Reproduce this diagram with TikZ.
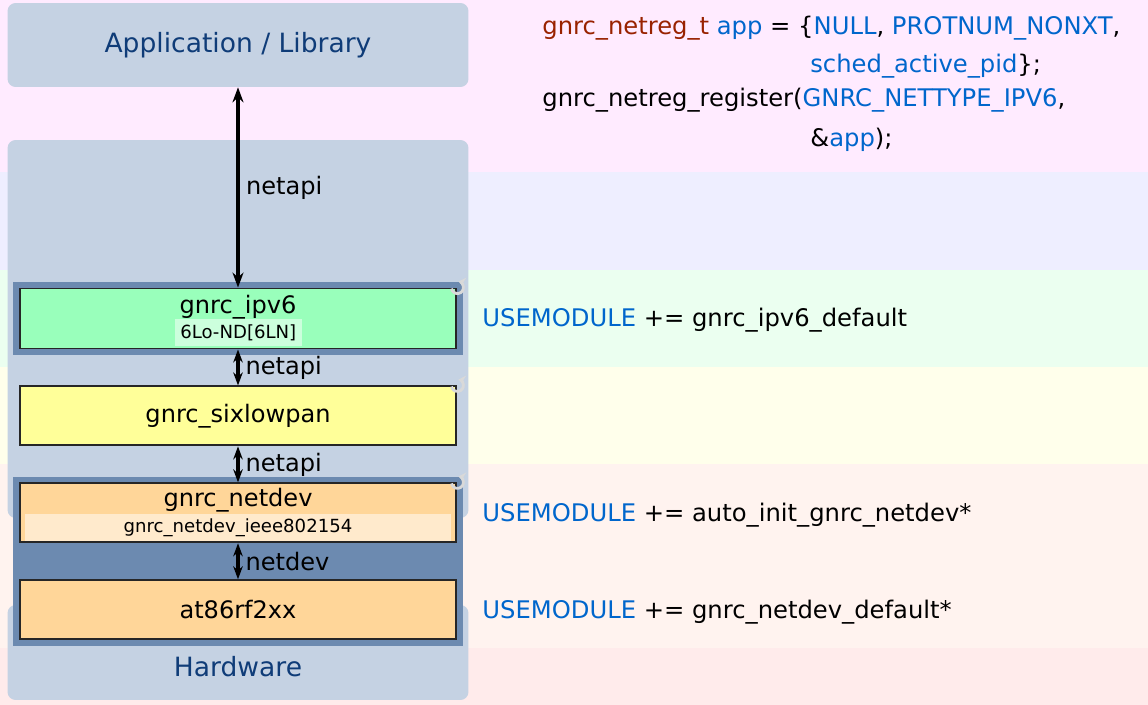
\documentclass[tikz,border=0pt]{standalone}
\usepackage{fontspec}
\setmainfont{DejaVu Sans}
\usepackage{xcolor}
\usepackage{tikz}
\usetikzlibrary{arrows.meta, positioning, backgrounds, fit}

\definecolor{bandApp}{HTML}{FFEBFF}
\definecolor{bandApi}{HTML}{EEEEFF}
\definecolor{bandNet}{HTML}{EBFFF0}
\definecolor{bandAdapt}{HTML}{FFFFEB}
\definecolor{bandDev}{HTML}{FFF3EF}
\definecolor{bandHw}{HTML}{FFEBEB}
\definecolor{stackfill}{HTML}{C5D2E3}
\definecolor{stacktext}{HTML}{0F3C78}
\definecolor{framefill}{HTML}{6C8AB0}
\definecolor{ipvsix}{HTML}{99FFBB}
\definecolor{ipvsixsub}{HTML}{CCFFDD}
\definecolor{lowpan}{HTML}{FFFF99}
\definecolor{devfill}{HTML}{FFD699}
\definecolor{devsub}{HTML}{FFEACC}
\definecolor{typered}{HTML}{992200}
\definecolor{identblue}{HTML}{0066CC}

\tikzset{
  stackbox/.style ={rectangle, rounded corners=0.16cm, fill=stackfill, minimum width=9.22cm,
                    inner sep=0pt, text=stacktext, font={\fontsize{15.1}{18}\selectfont}},
  modbox/.style   ={rectangle, draw=black!85, line width=1.1pt, minimum width=8.74cm,
                    minimum height=1.18cm, inner sep=0pt, font={\fontsize{13.7}{16}\selectfont}},
  modtitle/.style ={inner sep=0pt, font={\fontsize{13.7}{16}\selectfont}},
  extbox/.style   ={rectangle, inner sep=0pt, minimum height=0.55cm,
                    font={\fontsize{10.3}{12}\selectfont}},
  frm/.style      ={rectangle, fill=framefill, inner sep=0.11cm},
  bigapi/.style   ={{Stealth[length=0.3cm,width=0.22cm]}-{Stealth[length=0.3cm,width=0.22cm]},
                    line width=2.5pt},
  api/.style      ={{Stealth[length=0.26cm,width=0.19cm]}-{Stealth[length=0.26cm,width=0.19cm]},
                    line width=1.9pt},
  lbl/.style      ={font={\fontsize{13.7}{16}\selectfont}},
  spin/.style     ={draw=gray!30, line width=1.6pt, -{Stealth[length=4pt,width=6pt]}},
  code/.style     ={anchor=base west, inner sep=0pt, font={\fontsize{13.8}{16}\selectfont}},
}

\begin{document}
\begin{tikzpicture}[x=0.02cm, y=-0.02cm, node distance=0.72cm]
  \useasboundingbox (0,0) rectangle (1148,705);

  % ── Bands and layers ───────────────────────────────────────────────
  \begin{scope}[on background layer]
    \fill[bandApp]   (0,0)   rectangle (1148,172);
    \fill[bandApi]   (0,172) rectangle (1148,270);
    \fill[bandNet]   (0,270) rectangle (1148,367);
    \fill[bandAdapt] (0,367) rectangle (1148,464);
    \fill[bandDev]   (0,464) rectangle (1148,648);
    \fill[bandHw]    (0,648) rectangle (1148,705);

    \node[stackbox, minimum height=1.68cm] (app)  at (238,45)    {Application / Library};
    \node[stackbox, minimum height=7.56cm] (gnrc) at (238,329)   {};
    \node[stackbox, minimum height=1.9cm]  (hw)   at (238,652.5) {};
  \end{scope}
  \node[modtitle, text=stacktext, font={\fontsize{15.1}{18}\selectfont}, anchor=base]
       (hwname) at (238,676.7) {Hardware};

  % ── Modules ────────────────────────────────────────────────────────
  \node[modbox, fill=ipvsix, minimum height=1.2cm] (ipv6) at (238,318.5) {};
  \node[modbox, fill=lowpan,  below=of ipv6]      (sixlowpan) {gnrc\_sixlowpan};
  \node[modbox, fill=devfill, below=of sixlowpan] (netdev)    {};
  \node[modbox, fill=devfill, below=of netdev]    (radio)     {at86rf2xx};

  \node[modtitle, anchor=base] (ipv6name) at (238,313.3) {gnrc\_ipv6};
  \node[extbox, fill=ipvsixsub, minimum width=2.54cm] (ipv6ext) at (238.3,332.5) {6Lo-ND[6LN]};
  \node[modtitle, anchor=base] (netdevname) at (238,506.7) {gnrc\_netdev};
  \node[extbox, fill=devsub, minimum width=8.52cm] (netdevext) at (238,527.5) {gnrc\_netdev\_ieee802154};

  \begin{scope}[on background layer]
    \node[frm, fit=(ipv6)] (ipv6frame) {};
    \node[frm, fit=(netdev) (radio)] (devframe) {};
  \end{scope}

  % ── Interfaces ─────────────────────────────────────────────────────
  \draw[bigapi] (app.south) -- node[right, lbl] {netapi} (ipv6.north);
  \draw[api] (ipv6) -- node[right, lbl] {netapi} (sixlowpan);
  \draw[api] (sixlowpan) -- node[right, lbl] {netapi} (netdev);
  \draw[api] (netdev) -- node[right, lbl] {netdev} (radio);

  \draw[spin] ([shift={(-190:6)}]ipv6.north east) arc[start angle=-190, end angle=-440, radius=6];
  \draw[spin] ([shift={(-190:6)}]sixlowpan.north east) arc[start angle=-190, end angle=-440, radius=6];
  \draw[spin] ([shift={(-190:6)}]netdev.north east) arc[start angle=-190, end angle=-440, radius=6];

  % ── Registration code ──────────────────────────────────────────────
  \node[code] (regtype) at (542,35)
        {\textcolor{typered}{gnrc\_netreg\_t} \textcolor{identblue}{app} = \{\textcolor{identblue}{NULL}, \textcolor{identblue}{PROTNUM\_NONXT},};
  \node[code] (regpid)  at (810,72.7) {\textcolor{identblue}{sched\_active\_pid}\};};
  \node[code] (regcall) at (542,107)  {gnrc\_netreg\_register(\textcolor{identblue}{GNRC\_NETTYPE\_IPV6},};
  \node[code] (regarg)  at (810,146.7) {\&\textcolor{identblue}{app});};

  % ── Module selection ───────────────────────────────────────────────
  \node[code] (useipv6)     at (482,326.7) {\textcolor{identblue}{USEMODULE} += gnrc\_ipv6\_default};
  \node[code] (useautoinit) at (482,521.7) {\textcolor{identblue}{USEMODULE} += auto\_init\_gnrc\_netdev*};
  \node[code] (usedefault)  at (482,618.3) {\textcolor{identblue}{USEMODULE} += gnrc\_netdev\_default*};

\end{tikzpicture}
\end{document}
